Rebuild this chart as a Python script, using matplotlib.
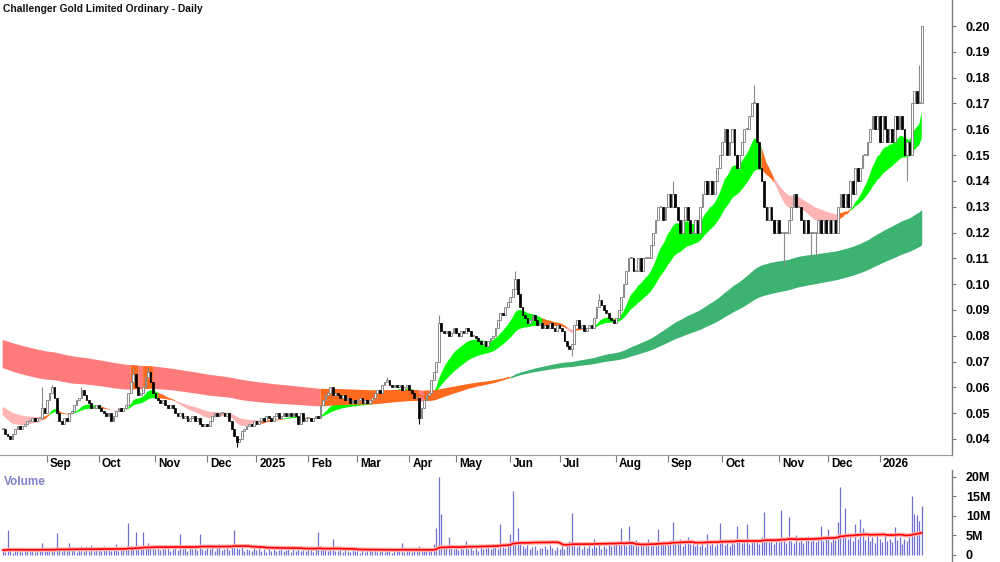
import numpy as np
import pandas as pd
import matplotlib
matplotlib.use("Agg")
import matplotlib.pyplot as plt
from matplotlib.transforms import blended_transform_factory, ScaledTranslation

# ---------------- data ----------------
TITLE = "Challenger Gold Limited Ordinary - Daily"
START, END = "2024-08-07", "2026-01-28"
HOLIDAYS = ["2024-12-25", "2024-12-26", "2025-01-01", "2025-01-27", "2025-04-18",
            "2025-04-21", "2025-04-25", "2025-06-09", "2025-12-25", "2025-12-26",
            "2026-01-01", "2026-01-26"]

# daily closes, in thousandths of a dollar
close_mills = [
    44, 42, 41, 40, 42, 44, 45, 44, 45, 46,
    47, 47, 48, 47, 48, 48, 52, 50, 55, 58,
    60, 56, 50, 47, 46, 48, 47, 50, 51, 53,
    55, 56, 59, 57, 55, 54, 52, 52, 53, 52,
    51, 50, 49, 50, 47, 49, 51, 52, 51, 52,
    53, 58, 62, 65, 60, 57, 58, 60, 64, 66,
    62, 58, 56, 55, 54, 55, 53, 52, 53, 52,
    50, 49, 50, 48, 49, 47, 48, 49, 47, 48,
    46, 45, 46, 45, 47, 49, 50, 49, 50, 50,
    49, 50, 47, 44, 41, 39, 40, 43, 44, 45,
    46, 45, 47, 46, 47, 48, 47, 49, 48, 47,
    49, 50, 48, 49, 50, 49, 50, 49, 50, 49,
    46, 50, 47, 48, 48, 47, 48, 49, 48, 53,
    55, 57, 58, 60, 57, 58, 57, 56, 57, 55,
    56, 54, 55, 54, 55, 56, 54, 55, 54, 55,
    56, 58, 59, 58, 61, 62, 63, 61, 60, 61,
    60, 61, 59, 60, 61, 59, 58, 56, 56, 48,
    52, 55, 57, 58, 63, 66, 70, 85, 82, 81,
    82, 80, 81, 83, 81, 80, 82, 81, 83, 82,
    80, 80, 79, 78, 77, 78, 76, 78, 79, 80,
    83, 86, 89, 88, 91, 93, 95, 98, 102, 96,
    91, 88, 87, 85, 86, 88, 86, 84, 85, 83,
    84, 83, 85, 83, 82, 84, 83, 82, 78, 76,
    75, 77, 84, 86, 83, 84, 82, 83, 84, 83,
    87, 91, 94, 92, 90, 89, 87, 86, 85, 87,
    90, 95, 100, 105, 110, 110, 105, 105, 110, 105,
    110, 110, 110, 115, 120, 125, 130, 130, 125, 130,
    135, 130, 135, 130, 125, 120, 125, 130, 125, 120,
    120, 125, 120, 130, 135, 140, 135, 140, 135, 140,
    145, 150, 155, 160, 150, 155, 160, 150, 145, 150,
    155, 160, 160, 165, 170, 170, 155, 145, 140, 130,
    125, 130, 125, 120, 125, 120, 120, 120, 120, 125,
    130, 135, 130, 130, 125, 120, 125, 120, 120, 120,
    120, 125, 120, 125, 120, 125, 120, 125, 120, 130,
    135, 130, 135, 130, 140, 135, 145, 140, 145, 150,
    150, 155, 160, 165, 160, 165, 155, 165, 160, 155,
    160, 155, 165, 160, 165, 160, 150, 155, 150, 170,
    175, 170, 170, 200,
]
# wick extremes that reach beyond the candle body (index: mills)
wick_high = {16: 60, 20: 61, 32: 60, 53: 67, 59: 68, 156: 64, 177: 88, 208: 105,
             242: 96, 272: 140, 305: 177, 372: 185}
wick_low = {95: 37, 169: 46, 177: 70, 231: 72, 317: 107, 328: 110, 330: 111, 367: 140}

# daily volume, in units of 100,000 shares
volume_100k = [
    12, 8, 64, 10, 6, 14, 9, 11, 7, 13,
    9, 15, 10, 8, 12, 17, 30, 11, 9, 14,
    10, 18, 56, 12, 9, 15, 11, 30, 13, 16,
    8, 12, 22, 10, 14, 9, 25, 11, 13, 20,
    9, 24, 12, 16, 10, 13, 28, 11, 15, 19,
    14, 83, 22, 18, 60, 25, 16, 58, 20, 30,
    17, 22, 15, 26, 12, 19, 14, 23, 11, 16,
    18, 13, 54, 15, 20, 11, 24, 14, 17, 12,
    54, 16, 12, 19, 14, 22, 10, 17, 28, 13,
    15, 20, 12, 24, 63, 18, 14, 21, 11, 16,
    13, 9, 17, 12, 20, 10, 15, 8, 14, 11,
    16, 9, 13, 18, 10, 12, 22, 8, 14, 11,
    15, 10, 13, 9, 17, 12, 8, 14, 58, 19,
    12, 16, 10, 14, 40, 11, 9, 15, 8, 12,
    10, 7, 13, 9, 11, 6, 14, 8, 10, 12,
    9, 13, 7, 11, 15, 8, 12, 10, 6, 14,
    9, 11, 30, 8, 13, 10, 7, 12, 9, 22,
    11, 14, 9, 16, 12, 28, 70, 200, 106, 25,
    18, 45, 22, 15, 19, 12, 24, 16, 37, 14,
    20, 13, 17, 11, 22, 15, 18, 26, 14, 19,
    24, 16, 80, 21, 18, 28, 53, 163, 35, 68,
    30, 22, 18, 26, 15, 20, 24, 13, 19, 17,
    22, 14, 25, 18, 12, 20, 16, 23, 15, 28,
    35, 107, 24, 20, 28, 15, 22, 18, 26, 17,
    42, 20, 28, 16, 24, 19, 30, 22, 25, 33,
    28, 68, 35, 24, 75, 30, 26, 38, 22, 29,
    32, 25, 40, 27, 34, 22, 66, 30, 36, 28,
    25, 38, 84, 33, 27, 40, 24, 31, 45, 29,
    28, 22, 34, 24, 30, 21, 53, 26, 32, 23,
    29, 83, 35, 25, 31, 22, 37, 28, 75, 34,
    30, 38, 80, 29, 42, 33, 36, 27, 46, 110,
    38, 32, 44, 29, 39, 34, 115, 42, 30, 98,
    36, 31, 50, 34, 45, 30, 38, 48, 35, 41,
    32, 42, 74, 37, 46, 66, 34, 44, 38, 84,
    173, 50, 120, 40, 46, 36, 80, 42, 92, 70,
    38, 48, 35, 46, 31, 55, 40, 33, 50, 37,
    42, 32, 72, 38, 46, 28, 40, 35, 45, 152,
    106, 103, 86, 125,
]

# moving-average ribbons: periods and starting values (read at the left edge)
SHORT_PERIODS = [15, 19, 23, 27, 31, 35]
SHORT_SEEDS = [0.0493, 0.0500, 0.0506, 0.0512, 0.0519, 0.0525]
LONG_PERIODS = [150, 165, 180, 200, 220, 240]
LONG_SEEDS = [0.0675, 0.0698, 0.0720, 0.0742, 0.0763, 0.0784]
VOL_MA = 50
VOL_MA_SEED = 1.25e6   # volume average level at the left edge

PRICE_TICKS = [0.04, 0.05, 0.06, 0.07, 0.08, 0.09, 0.10, 0.11, 0.12, 0.13,
               0.14, 0.15, 0.16, 0.17, 0.18, 0.19, 0.20]
VOL_TICKS = [0, 5e6, 10e6, 15e6, 20e6]
VOL_TICK_LABELS = ["0", "5M", "10M", "15M", "20M"]

# ---------------- prepare ----------------
dates = pd.bdate_range(START, END)
dates = dates[~dates.isin(pd.to_datetime(HOLIDAYS))]
n = min(len(dates), len(close_mills), len(volume_100k))
dates = dates[:n]
c = np.array(close_mills[:n]) / 1000.0
o = np.r_[c[0], c[:-1]]
hi = np.maximum(o, c)
lo = np.minimum(o, c)
for k, v in wick_high.items():
    if k < n:
        hi[k] = max(hi[k], v / 1000.0)
for k, v in wick_low.items():
    if k < n:
        lo[k] = min(lo[k], v / 1000.0)
vol = np.array(volume_100k[:n]) * 1e5
x = np.arange(n)


def ema(series, period, seed):
    a = 2.0 / (period + 1)
    out = np.empty(len(series))
    v = seed
    for i, p in enumerate(series):
        if i > 0:
            v = v + a * (p - v)
        out[i] = v
    return out


def group(periods, seeds, strict):
    """state 0 = rising (fast above slow), 1 = falling, 2 = in transition."""
    m = np.vstack([ema(c, p, s) for p, s in zip(periods, seeds)])
    top, bot = m.max(axis=0), m.min(axis=0)
    fast_up = m[0] > m[-1]
    if strict:      # price must be clear of the whole band
        bull = fast_up & (c > top)
        bear = ~fast_up & (c < bot)
    else:           # price must not be on the wrong side of the band
        bull = fast_up & (c >= bot)
        bear = ~fast_up & (c <= top)
    state = np.where(bull, 0, np.where(bear, 1, 2))
    return top, bot, state


plt.rcParams["font.family"] = ["Liberation Sans", "DejaVu Sans"]

# ---------------- figure ----------------
W, H = 1000, 562
fig = plt.figure(figsize=(W / 100, H / 100), dpi=100)
ax = fig.add_axes([0, (H - 455) / H, 952 / W, 455 / H])
axv = fig.add_axes([0, 0, 952 / W, 92 / H])

px_per_day = 2.464
x0 = -2.65 / px_per_day
x1 = (952 - 2.65) / px_per_day
ax.set_xlim(x0, x1)
axv.set_xlim(x0, x1)
ax.set_ylim(0.0338, 0.2101)
axv.set_ylim(-1.8e6, 21.75e6)


def draw_ribbon(top, bot, state, colors):
    for s, col in enumerate(colors):
        m = state == s
        ext = m | np.r_[False, m[:-1]]
        ax.fill_between(x, bot, top, where=ext, color=col, lw=0, zorder=1 + s * 0.01)


lt, lb, ls = group(LONG_PERIODS, LONG_SEEDS, True)
draw_ribbon(lt, lb, ls, ["#3cb371", "#ff7b7b", "#ff6a1f"])
st, sb, ss = group(SHORT_PERIODS, SHORT_SEEDS, False)
draw_ribbon(st, sb, ss, ["#00ff00", "#ffb4b4", "#ff6a1f"])

up = c >= o
dn = ~up
ax.vlines(x[up], lo[up], hi[up], color="#8a8a8a", lw=0.8, zorder=3)
ax.vlines(x[dn], lo[dn], hi[dn], color="#000000", lw=0.8, zorder=3)
bw = 0.72
ax.bar(x[up], np.maximum(c[up] - o[up], 0.0004), bottom=o[up], width=bw,
       facecolor="white", edgecolor="#8a8a8a", linewidth=0.7, zorder=4)
ax.bar(x[dn], np.maximum(o[dn] - c[dn], 0.0004), bottom=c[dn], width=bw,
       facecolor="black", edgecolor="black", linewidth=0.5, zorder=4)

# axes styling
for a_ in (ax, axv):
    for side in ("left", "top"):
        a_.spines[side].set_visible(False)
    a_.spines["right"].set_color("#7a7a7a")
    a_.spines["right"].set_linewidth(1.0)
    a_.yaxis.tick_right()
    a_.tick_params(axis="y", direction="out", length=3, width=0.8, color="#7a7a7a",
                   pad=7, labelsize=9)
    a_.set_facecolor("white")
ax.spines["bottom"].set_color("#9a9a9a")
axv.spines["bottom"].set_visible(False)

ax.set_yticks(PRICE_TICKS)
ax.set_yticklabels([f"{t:.2f}" for t in PRICE_TICKS])
axv.set_yticks(VOL_TICKS)
axv.set_yticklabels(VOL_TICK_LABELS)
for lab in ax.get_yticklabels() + axv.get_yticklabels():
    lab.set_fontweight("bold")

# month ticks
month_start = pd.Series(x, index=dates).groupby([dates.year, dates.month]).first()
month_pos = month_start.values[1:]
month_dates = [dates[i] for i in month_pos]
ax.set_xticks(month_pos)
ax.set_xticklabels([])
ax.tick_params(axis="x", direction="out", length=5, width=0.8, color="#7a7a7a")
axv.set_xticks([])
trans = blended_transform_factory(ax.transData, ax.transAxes) + \
    ScaledTranslation(3 / 100, -3 / 100, fig.dpi_scale_trans)
for p, d in zip(month_pos, month_dates):
    lab = str(d.year) if d.month == 1 else d.strftime("%b")
    ax.text(p, 0, lab, transform=trans, ha="left", va="top", fontsize=8.5,
            fontweight="bold", color="black")

# volume
axv.vlines(x, 0, vol, color="#7070d0", lw=0.9, zorder=2)
padded = np.r_[np.full(VOL_MA - 1, VOL_MA_SEED), vol]
ma = pd.Series(padded).rolling(VOL_MA).mean().values[VOL_MA - 1:]
axv.plot(x, ma, color="#ffb0b0", lw=3.0, zorder=3, solid_capstyle="butt")
axv.plot(x, ma, color="#ff0000", lw=1.2, zorder=4)
axv.text(0.004, 0.93, "Volume", transform=axv.transAxes, ha="left", va="top",
         fontsize=8.5, fontweight="bold", color="#8282c8")

fig.text(3 / W, 1 - 4 / H, TITLE, ha="left", va="top", fontsize=7.4, fontweight="bold",
         color="#111111")

fig.savefig("out.png", dpi=100, facecolor="white")
